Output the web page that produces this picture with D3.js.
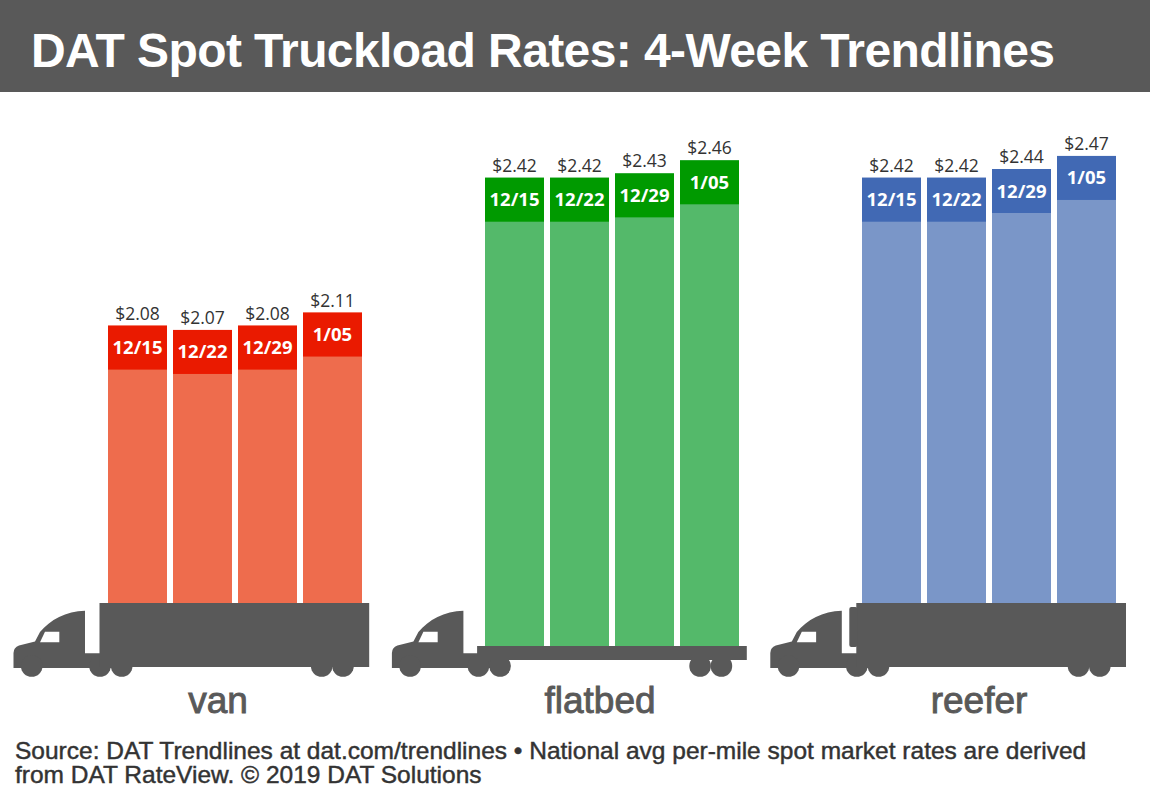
<!DOCTYPE html>
<html>
<head>
<meta charset="utf-8">
<script src="https://cdn.jsdelivr.net/npm/d3@7/dist/d3.min.js"></script>
<style>
    html, body { margin: 0; padding: 0; background: #fff; }
    svg { display: block; }
    .title { font: bold 48px "Liberation Sans", Arial, sans-serif; letter-spacing: -0.6px; fill: #fff; }
    .rate { font: 17.5px "Open Sans", sans-serif; fill: #333; text-anchor: middle; }
    .week { font: bold 18.5px "Open Sans", sans-serif; fill: #fff; text-anchor: middle; }
    .cat { font: 37px "Liberation Sans", Arial, sans-serif; fill: #595959; stroke: #595959; stroke-width: 0.9px; text-anchor: middle; }
    .source { font: 24.5px "Liberation Sans", Arial, sans-serif; fill: #333; stroke: #333; stroke-width: 0.45px; }
</style>
</head>
<body>
<div id="chart"></div>
<script>
var titleText = "DAT Spot Truckload Rates: 4-Week Trendlines";
var sourceLines = [
    "Source: DAT Trendlines at dat.com/trendlines \u2022 National avg per-mile spot market rates are derived",
    "from DAT RateView. \u00A9 2019 DAT Solutions"
];

var categories = ["van", "flatbed", "reefer"];
var weeks = ["12/15", "12/22", "12/29", "1/05"];
var vanRates = [2.08, 2.07, 2.08, 2.11];
var flatbedRates = [2.42, 2.42, 2.43, 2.46];
var reeferRates = [2.42, 2.42, 2.44, 2.47];
var rates = [vanRates, flatbedRates, reeferRates];

var lightColors = ["#EE6C4D", "#54B96A", "#7A96C8"];
var darkColors = ["#EA1A00", "#009A00", "#4169B4"];
var gray = "#595959";

var w = 1150, h = 800;
var capHeight = 44;

var svg = d3.select("#chart").append("svg")
    .attr("width", w)
    .attr("height", h);

// rate axis is cut off, all three groups share it
var y = d3.scaleLinear().domain([2.0, 2.5]).range([360.4, 142.9]);
var groupX = d3.scalePoint().domain(categories).range([108, 862]);
var weekX = d3.scaleBand().domain(weeks).range([0, 254]).paddingInner(6 / 65);

function barBase(cat) {
    return cat == "flatbed" ? 646 : 603;
}

function drawTruck(g, cat) {
    // cab, drawn at the position of the van truck
    g.append("path")
        .attr("fill", gray)
        .attr("d", "M85,610.7 C66,611 50,620 40,632 L35,641.5 L19,645.5 Q13.5,647.5 13.5,653 "
            + "L13.5,668 L100,668 L122,668 L122,653.3 L85,653.3 Z");
    g.append("path")
        .attr("fill", "#fff")
        .attr("d", "M45,631.7 L59.3,631.7 L59.3,642.3 L40,642.3 Z");

    var wheels = [31.7, 100, 121.7, 321.7, 343];
    g.selectAll("circle.wheel").data(wheels).enter().append("circle")
        .attr("class", "wheel")
        .attr("cx", function (d) { return d; })
        .attr("cy", 666)
        .attr("r", 10.8)
        .attr("fill", gray);

    if (cat == "flatbed") {
        g.append("rect").attr("x", 98.7).attr("y", 646).attr("width", 269.7).attr("height", 14).attr("fill", gray);
    } else {
        g.append("rect").attr("x", 99.5).attr("y", 603).attr("width", 269.7).attr("height", 64).attr("fill", gray);
    }
    if (cat == "reefer") {
        // cooling unit on the front of the trailer
        g.append("rect").attr("x", 92.5).attr("y", 607).attr("width", 8).attr("height", 40).attr("rx", 2).attr("fill", gray);
    }
}

svg.append("rect")
    .attr("width", w)
    .attr("height", 92)
    .attr("fill", gray);

svg.append("text")
    .attr("class", "title")
    .attr("x", 31)
    .attr("y", 67)
    .text(titleText);

categories.forEach(function (cat, i) {
    var x0 = groupX(cat);
    var base = barBase(cat);
    var g = svg.append("g").attr("transform", "translate(" + x0 + ",0)");

    var truck = svg.append("g")
        .attr("transform", "translate(" + (x0 - 108 + i * 1.4) + ",0)");
    drawTruck(truck, cat);

    var bars = g.selectAll("g.bar").data(rates[i]).enter().append("g").attr("class", "bar");

    bars.append("rect")
        .attr("x", function (d, j) { return weekX(weeks[j]); })
        .attr("y", function (d) { return y(d); })
        .attr("width", weekX.bandwidth())
        .attr("height", function (d) { return base - y(d); })
        .attr("fill", lightColors[i]);

    bars.append("rect")
        .attr("x", function (d, j) { return weekX(weeks[j]); })
        .attr("y", function (d) { return y(d); })
        .attr("width", weekX.bandwidth())
        .attr("height", capHeight)
        .attr("fill", darkColors[i]);

    bars.append("text")
        .attr("class", "week")
        .attr("x", function (d, j) { return weekX(weeks[j]) + weekX.bandwidth() / 2; })
        .attr("y", function (d) { return y(d) + 28.5; })
        .text(function (d, j) { return weeks[j]; });

    bars.append("text")
        .attr("class", "rate")
        .attr("x", function (d, j) { return weekX(weeks[j]) + weekX.bandwidth() / 2; })
        .attr("y", function (d) { return y(d) - 6; })
        .text(function (d) { return "$" + d.toFixed(2); });

    svg.append("text")
        .attr("class", "cat")
        .attr("x", x0 + 110 + (cat == "flatbed" ? 5 : 0) + (cat == "reefer" ? 7 : 0))
        .attr("y", 713)
        .text(cat);
});

// one text element, the two lines sit as tight as in the original
svg.append("text")
    .attr("class", "source")
    .selectAll("tspan").data(sourceLines).enter().append("tspan")
    .attr("x", 15)
    .attr("y", function (d, i) { return 759 + i * 24; })
    .text(function (d) { return d; });
</script>
</body>
</html>
